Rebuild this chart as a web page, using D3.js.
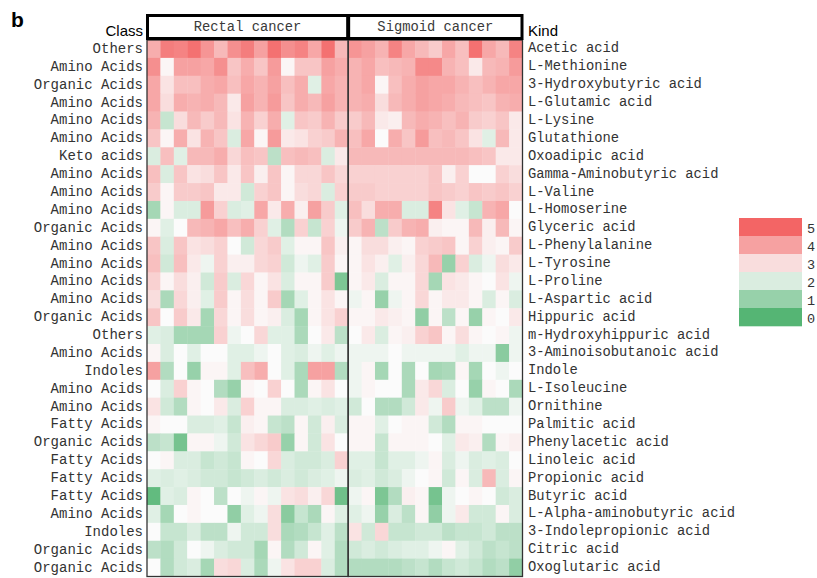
<!DOCTYPE html>
<html><head><meta charset="utf-8">
<script src="https://cdn.jsdelivr.net/npm/d3@7"></script>
<style>html,body{margin:0;padding:0;background:#fff;}</style>
</head><body>
<svg id="chart" width="817" height="578"></svg>
<script>
const groups = ["Rectal cancer", "Sigmoid cancer"];
const kinds = ["Acetic acid","L-Methionine","3-Hydroxybutyric acid","L-Glutamic acid","L-Lysine","Glutathione","Oxoadipic acid","Gamma-Aminobutyric acid","L-Valine","L-Homoserine","Glyceric acid","L-Phenylalanine","L-Tyrosine","L-Proline","L-Aspartic acid","Hippuric acid","m-Hydroxyhippuric acid","3-Aminoisobutanoic acid","Indole","L-Isoleucine","Ornithine","Palmitic acid","Phenylacetic acid","Linoleic acid","Propionic acid","Butyric acid","L-Alpha-aminobutyric acid","3-Indolepropionic acid","Citric acid","Oxoglutaric acid"];
const classes = ["Others","Amino Acids","Organic Acids","Amino Acids","Amino Acids","Amino Acids","Keto acids","Amino Acids","Amino Acids","Amino Acids","Organic Acids","Amino Acids","Amino Acids","Amino Acids","Amino Acids","Organic Acids","Others","Amino Acids","Indoles","Amino Acids","Amino Acids","Fatty Acids","Organic Acids","Fatty Acids","Fatty Acids","Fatty Acids","Amino Acids","Indoles","Organic Acids","Organic Acids"];
const rectal = [
[3.8,4.6,4.5,4.8,4.2,3.6,4.3,4.6,4.0,4.8,4.3,4.5,3.9,4.8,3.6],
[4.3,2.6,4.0,4.0,3.9,4.3,3.4,3.8,3.4,4.1,2.6,3.4,3.4,4.0,3.8],
[3.9,2.9,3.5,3.5,3.8,3.9,3.5,3.9,3.7,4.0,3.5,3.8,2.1,3.9,3.7],
[3.9,3.0,3.8,3.7,3.8,3.6,2.8,4.0,3.7,4.1,3.4,3.8,3.6,4.0,3.7],
[3.7,1.7,3.0,3.6,3.3,3.6,2.9,3.7,3.2,3.8,2.1,3.4,3.3,3.7,3.3],
[3.4,2.6,3.8,2.9,3.7,3.4,2.0,3.9,2.6,4.1,2.8,2.9,3.2,3.3,3.7],
[2.0,3.5,2.1,3.6,3.6,3.8,3.1,3.5,3.4,1.55,3.5,3.6,3.5,2.0,2.8],
[3.5,2.0,3.4,2.9,3.0,3.4,2.8,3.4,2.7,3.4,2.6,3.1,3.1,3.4,3.1],
[3.3,2.6,3.3,3.3,3.4,2.8,2.8,1.85,3.2,3.4,2.6,3.0,3.1,2.0,3.2],
[1.2,2.6,2.0,2.0,4.1,3.2,2.0,2.1,3.9,2.8,3.8,2.7,4.0,3.3,2.1],
[2.6,2.1,2.5,3.6,3.7,3.9,3.5,3.8,3.2,2.1,1.4,3.2,1.7,3.2,2.3],
[3.4,2.0,3.4,2.9,3.0,3.2,2.5,1.85,3.1,3.3,2.1,2.6,2.6,3.4,2.7],
[3.5,1.85,3.5,2.8,2.3,3.2,2.7,2.7,3.1,3.2,1.85,2.3,2.1,3.3,2.6],
[3.2,2.6,3.0,2.7,1.85,3.3,2.0,3.1,2.6,2.9,2.0,2.6,2.6,3.3,0.6],
[3.0,1.3,3.1,2.7,2.1,3.3,2.6,3.0,2.6,3.3,1.2,2.1,2.6,2.9,2.6],
[3.4,2.5,3.3,2.8,1.2,3.1,2.6,3.0,2.6,2.7,2.0,1.2,2.6,2.9,3.2],
[2.1,2.0,1.2,1.2,1.2,3.2,2.3,2.5,3.1,2.1,2.1,1.3,2.5,2.8,1.55],
[2.6,2.0,2.5,2.1,2.5,2.5,2.1,2.1,2.3,2.5,2.1,2.0,2.3,2.1,2.3],
[4.0,1.4,2.5,1.0,2.6,2.6,2.1,3.5,3.8,2.5,2.1,1.3,4.0,4.0,1.4],
[2.5,2.0,3.2,2.6,2.5,1.4,1.0,2.6,2.5,3.2,2.5,1.3,2.6,2.9,2.5],
[2.9,1.85,1.4,2.6,2.5,2.8,2.0,3.2,2.6,2.6,2.0,2.0,2.1,2.0,2.1],
[2.6,2.5,2.5,2.0,2.0,2.1,1.7,2.7,2.6,1.7,1.55,2.6,1.85,2.7,2.0],
[1.55,1.7,0.5,2.6,2.6,2.3,1.85,2.9,3.1,3.3,1.0,2.6,1.85,2.9,2.5],
[2.5,2.6,2.0,2.0,1.7,1.85,1.7,2.6,2.5,3.1,2.0,1.85,1.85,2.0,3.2],
[2.1,2.0,2.1,2.0,1.85,1.85,1.7,1.85,2.0,1.85,2.0,1.85,2.0,2.1,2.3],
[0.2,2.1,2.0,2.6,2.5,1.55,2.5,2.3,2.6,2.3,2.9,3.0,2.7,3.1,0.4],
[2.1,1.2,2.5,2.6,2.5,2.5,0.9,2.1,2.3,3.0,0.8,1.7,1.3,2.6,2.1],
[2.5,1.7,1.7,2.0,1.55,1.55,2.3,1.85,1.85,3.0,1.3,1.4,1.7,2.1,1.55],
[1.55,1.4,1.85,2.5,2.3,2.0,1.85,1.85,1.2,2.6,1.4,1.85,2.6,2.1,1.4],
[2.5,1.4,1.85,2.0,1.2,3.0,3.1,2.0,1.3,2.3,2.9,3.2,3.2,2.0,1.4]
];
const sigmoid = [
[4.2,4.0,3.7,4.5,3.9,3.6,3.3,3.9,3.5,4.8,3.9,3.6,4.5],
[3.7,3.9,3.5,3.6,3.7,4.4,4.4,3.7,3.5,2.8,3.6,3.7,4.1],
[3.7,3.9,2.6,3.5,3.8,4.0,3.9,3.9,3.7,3.5,3.7,3.9,3.9],
[3.7,3.8,3.0,3.6,3.8,4.0,3.9,3.8,3.6,3.5,3.4,3.7,3.8],
[3.3,3.6,2.8,2.7,3.6,3.8,3.7,3.5,3.7,3.3,3.2,3.4,2.8],
[3.5,3.9,2.5,3.8,3.4,4.1,3.5,3.6,3.4,2.9,2.1,3.6,2.8],
[3.6,3.6,3.6,3.6,3.6,3.6,3.6,3.6,3.6,3.5,3.4,2.8,2.8],
[3.2,3.2,3.2,3.2,3.2,3.2,3.4,2.7,3.2,2.5,2.5,3.2,3.0],
[3.3,3.3,3.2,3.2,3.2,3.2,3.4,3.3,3.2,3.4,3.3,3.4,3.2],
[3.5,3.0,3.8,3.8,2.0,2.0,4.5,2.9,2.1,1.7,3.7,3.9,2.5],
[3.3,3.7,1.55,3.3,3.7,3.8,2.7,2.6,2.6,3.6,2.7,3.6,2.6],
[2.6,3.0,3.0,2.7,2.6,3.2,3.3,3.4,2.6,3.2,2.7,2.6,3.3],
[2.6,2.9,2.7,2.1,2.7,3.1,3.6,1.0,3.2,2.0,2.3,3.0,2.8],
[2.6,2.8,2.0,2.6,2.6,3.1,1.2,2.9,2.8,2.6,2.5,2.9,2.3],
[2.3,2.6,1.0,2.3,2.6,3.1,2.6,2.8,2.8,2.6,2.0,2.6,2.0],
[2.6,2.6,2.8,2.7,2.6,0.9,2.6,1.55,2.6,1.0,2.6,2.5,2.8],
[2.5,2.8,2.0,2.6,2.7,3.2,3.4,2.6,3.0,2.6,2.5,2.6,2.3],
[2.3,2.3,2.3,2.5,2.3,2.3,2.3,2.3,2.1,2.3,2.3,0.8,2.3],
[2.3,2.6,1.2,2.5,1.3,2.5,1.2,1.3,2.6,1.2,2.5,2.3,2.5],
[2.3,2.6,2.5,2.5,1.3,2.8,3.1,2.0,2.5,1.0,2.6,2.5,1.3],
[1.85,2.5,1.4,1.4,1.85,2.8,2.3,3.3,2.3,2.1,1.55,1.55,2.3],
[2.6,2.6,2.1,2.5,2.6,2.6,1.85,1.4,2.6,2.6,2.5,2.5,2.5],
[2.6,2.6,1.7,2.6,2.6,2.6,2.5,2.1,2.8,2.7,1.4,2.6,2.7],
[2.1,2.1,1.7,2.1,2.1,2.3,2.6,2.0,2.3,2.0,2.1,2.0,2.5],
[2.0,2.1,1.85,2.0,2.3,2.5,2.6,1.85,2.6,2.0,3.6,2.0,2.6],
[2.3,2.6,0.6,1.4,2.7,2.6,0.5,2.3,2.5,2.6,2.5,1.85,2.0],
[2.1,2.3,1.0,2.0,1.55,2.6,0.9,2.3,2.8,1.85,1.85,2.6,2.0],
[2.9,1.85,3.1,1.7,1.7,1.85,1.85,1.55,1.7,1.7,1.85,1.55,1.55],
[1.85,2.0,1.85,2.0,2.1,2.1,2.3,2.6,2.1,1.85,1.55,1.7,1.55],
[1.4,1.4,1.4,1.4,1.55,1.7,1.4,1.7,1.85,1.7,1.4,1.55,0.9]
];
const legendTicks = [5,4,3,2,1,0];

const svg = d3.select("#chart");
const mono = "'Liberation Mono', 'DejaVu Sans Mono', monospace";
const sans = "'Liberation Sans', Arial, sans-serif";

const cols = [];
rectal[0].forEach((_, i) => cols.push("R" + i));
sigmoid[0].forEach((_, i) => cols.push("S" + i));

const x = d3.scaleBand().domain(cols).range([147, 522.5]).paddingInner(0).paddingOuter(0);
const y = d3.scaleBand().domain(kinds).range([40, 576.5]);
const color = d3.scaleLinear().domain([0, 2.5, 5]).range(["#55b574", "#fbfbfb", "#f36565"]).clamp(true);

const cells = [];
kinds.forEach((k, r) => {
  rectal[r].forEach((v, i) => cells.push({k, c: "R" + i, v}));
  sigmoid[r].forEach((v, i) => cells.push({k, c: "S" + i, v}));
});

svg.append("g").selectAll("rect").data(cells).join("rect")
  .attr("x", d => x(d.c)).attr("y", d => y(d.k))
  .attr("width", x.bandwidth() + 0.4).attr("height", y.bandwidth() + 0.4)
  .attr("fill", d => color(d.v));

// group frames
const gx0 = x("R0"), gx1 = x("S0"), gx2 = x("S" + (sigmoid[0].length - 1)) + x.bandwidth();
const yTop = y.range()[0], yBot = y.range()[1];
const frames = [[gx0, gx1], [gx1, gx2]];
svg.append("g").selectAll("rect").data(frames).join("rect")
  .attr("x", d => d[0]).attr("y", yTop).attr("width", d => d[1] - d[0]).attr("height", yBot - yTop)
  .attr("fill", "none").attr("stroke", "#333").attr("stroke-width", 1.3);

// header boxes
const hdr = svg.append("g");
hdr.selectAll("rect").data(frames).join("rect")
  .attr("x", d => d[0] + 0.5).attr("y", 15.5).attr("width", d => d[1] - d[0] - 1).attr("height", 23)
  .attr("fill", "#fff").attr("stroke", "#000").attr("stroke-width", 3);
hdr.selectAll("text").data(frames).join("text")
  .attr("x", d => (d[0] + d[1]) / 2).attr("y", 27.5)
  .attr("text-anchor", "middle").attr("dominant-baseline", "central")
  .attr("font-family", mono).attr("font-size", 13.8).attr("fill", "#3a3a3a")
  .text((d, i) => groups[i]);

// left class labels
svg.append("g").selectAll("text").data(classes).join("text")
  .attr("x", 143).attr("y", (d, i) => y(kinds[i]) + y.bandwidth() / 2)
  .attr("text-anchor", "end").attr("dominant-baseline", "central")
  .attr("font-family", mono).attr("font-size", 14).attr("fill", "#333")
  .text(d => d);

// right kind labels
svg.append("g").selectAll("text").data(kinds).join("text")
  .attr("x", 528).attr("y", d => y(d) + y.bandwidth() / 2)
  .attr("dominant-baseline", "central")
  .attr("font-family", mono).attr("font-size", 13.8).attr("fill", "#333")
  .text(d => d);

svg.append("text").attr("x", 143).attr("y", 36).attr("text-anchor", "end")
  .attr("font-family", sans).attr("font-size", 15).attr("fill", "#000").text("Class");
svg.append("text").attr("x", 528).attr("y", 36)
  .attr("font-family", sans).attr("font-size", 15).attr("fill", "#000").text("Kind");
svg.append("text").attr("x", 11).attr("y", 27)
  .attr("font-family", sans).attr("font-size", 21).attr("font-weight", "bold").attr("fill", "#000").text("b");

// legend
const ly = d3.scaleBand().domain(legendTicks).range([218, 326]);
const lg = svg.append("g");
lg.selectAll("rect").data(legendTicks).join("rect")
  .attr("x", 739).attr("y", d => ly(d)).attr("width", 63).attr("height", ly.bandwidth() + 0.3)
  .attr("fill", d => color(d));
lg.selectAll("text").data(legendTicks).join("text")
  .attr("x", 807).attr("y", d => ly(d) + ly.bandwidth() / 2 + 2)
  .attr("dominant-baseline", "central")
  .attr("font-family", mono).attr("font-size", 13.5).attr("fill", "#333")
  .text(d => d);
</script>
</body></html>
